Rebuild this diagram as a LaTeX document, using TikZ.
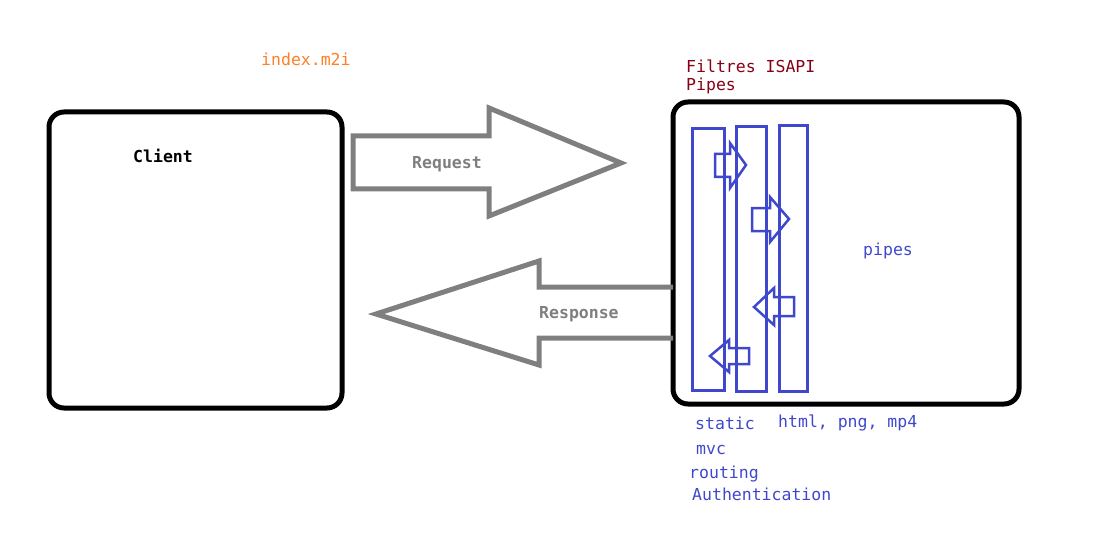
\documentclass[tikz,border=0pt]{standalone}
\usepackage{fontspec}
\setmonofont{DejaVu Sans Mono}
\usetikzlibrary{positioning,calc}
\definecolor{pblue}{RGB}{63,72,204}
\definecolor{pgray}{RGB}{127,127,127}
\definecolor{porange}{RGB}{255,127,39}
\definecolor{pred}{RGB}{136,0,21}

\begin{document}
\begin{tikzpicture}[x=1pt,y=-1pt,
    box/.style={rectangle,draw=black,line width=5pt,rounded corners=15pt},
    pipe/.style={rectangle,draw=pblue,line width=3pt},
    bigarrow/.style={draw=pgray,line width=5pt},
    smallarrow/.style={draw=pblue,line width=2.5pt},
    lbl/.style={inner sep=0pt,anchor=base west,font=\fontsize{16.5pt}{20pt}\selectfont\ttfamily}]
        \useasboundingbox (0,0) rectangle (1102,540);
        % boites
        \node[box,minimum width=293pt,minimum height=296pt] at (195.5,260) (CL) {};
        \node[box,minimum width=346pt,minimum height=302pt] at (846,253) (SRV) {};
        \node[pipe,minimum width=32pt,minimum height=261pt] at (708,259.5) (P1) {};
        \node[pipe,minimum width=30pt,minimum height=264pt] at (751,259) (P2) {};
        \node[pipe,minimum width=28.5pt,minimum height=265pt] at (793.5,258.5) (P3) {};
        % fleches
        \draw[bigarrow] (353,136) -- (489,136) -- (489,108) -- (621,163) -- (489,216) -- (489,189) -- (353,189) -- cycle;
        \draw[bigarrow] (673,287) -- (539,287) -- (539,261) -- (376,314) -- (539,365) -- (539,338) -- (673,338);
        \draw[smallarrow] (715,154) -- (730,154) -- (730,143) -- (746,165) -- (730,188) -- (730,177) -- (715,177) -- cycle;
        \draw[smallarrow] (752,208) -- (770,208) -- (770,197) -- (789,219) -- (770,242) -- (770,231) -- (752,231) -- cycle;
        \draw[smallarrow] (794,297) -- (774,297) -- (774,288) -- (754,307) -- (774,325) -- (774,316) -- (794,316) -- cycle;
        \draw[smallarrow] (749,348) -- (729,348) -- (729,340) -- (710,356) -- (729,372) -- (729,364) -- (749,364) -- cycle;
        % textes
        \node[lbl,text=porange] at (261,66) (IDX) {index.m2i};
        \node[lbl,font=\fontsize{16.5pt}{20pt}\selectfont\ttfamily\bfseries] at (133,163) (CLT) {Client};
        \node[lbl,text=pgray,font=\fontsize{16.5pt}{20pt}\selectfont\ttfamily\bfseries] at (412,168) (REQ) {Request};
        \node[lbl,text=pgray,font=\fontsize{16.5pt}{20pt}\selectfont\ttfamily\bfseries] at (539,318) (RESP) {Response};
        \node[lbl,text=pred] at (686,73) (ISAPI) {Filtres ISAPI};
        \node[lbl,text=pred] at (686,91) (PIP) {Pipes};
        \node[lbl,text=pblue] at (863,255) (PIPES) {pipes};
        \node[lbl,text=pblue] at (695,429) (STAT) {static};
        \node[lbl,text=pblue] at (778,427) (EXT) {html, png, mp4};
        \node[lbl,text=pblue] at (696,454) (MVC) {mvc};
        \node[lbl,text=pblue] at (689,478) (ROUT) {routing};
        \node[lbl,text=pblue] at (692,500) (AUTH) {Authentication};
    \end{tikzpicture}
\end{document}
